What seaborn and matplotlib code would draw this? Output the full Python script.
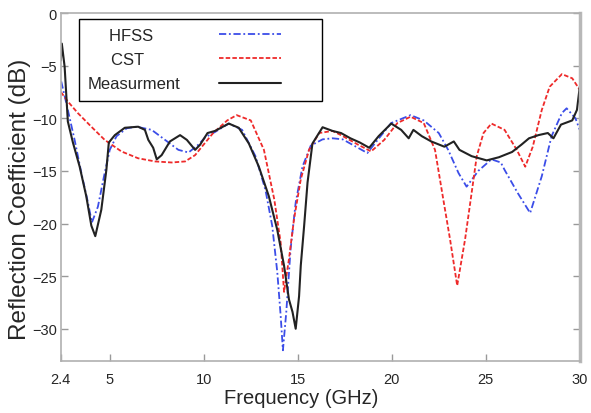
import matplotlib
matplotlib.use("Agg")
import matplotlib.pyplot as plt
from matplotlib.patches import Rectangle
import seaborn as sns

# HFSS simulation
hfss_freq = [2.42, 2.77, 3.13, 3.49, 3.84, 4.05, 4.37, 4.73, 5.0, 5.36, 5.9, 6.43, 7.23, 7.94,
             8.65, 9.19, 9.72, 10.08, 10.6, 11.33, 12.04, 12.75, 13.28, 13.64, 13.91, 14.09,
             14.21, 14.39, 14.62, 14.89, 15.25, 15.69, 16.32, 16.85, 17.39, 18.2, 18.7, 19.25,
             19.97, 21.0, 21.7, 22.5, 23.0, 23.55, 23.98, 24.6, 25.3, 25.8, 26.0, 26.7, 27.36,
             27.98, 28.5, 29.05, 29.3, 29.77, 30.0]
hfss_db = [-6.5, -9.2, -12.05, -15.2, -18.0, -19.9, -18.4, -15.2, -13.0, -11.7, -10.95, -10.8,
           -11.1, -12.05, -13.0, -13.25, -12.5, -11.8, -11.3, -10.5, -11.1, -13.6, -16.8, -20.2,
           -24.6, -28.75, -32.05, -28.4, -22.4, -18.0, -14.6, -12.6, -12.0, -11.9, -12.0, -12.8,
           -13.3, -12.05, -10.45, -9.7, -10.2, -11.4, -13.0, -15.2, -16.5, -15.0, -13.9, -14.2,
           -14.9, -17.1, -19.0, -15.5, -11.7, -9.5, -9.05, -10.0, -11.1]

# CST simulation
cst_freq = [2.4, 2.77, 3.3, 4.02, 4.73, 5.62, 6.51, 7.41, 8.3, 9.01, 9.54, 9.9, 10.5, 11.25,
            11.75, 12.5, 13.2, 13.75, 14.09, 14.27, 14.53, 14.8, 15.16, 15.6, 16.14, 16.85,
            17.3, 18.2, 18.9, 19.6, 20.3, 21.0, 21.7, 22.3, 22.74, 23.1, 23.48, 23.9, 24.2,
            24.52, 24.88, 25.3, 26.0, 26.65, 27.1, 27.5, 27.98, 28.4, 29.05, 29.6, 30.0]
cst_db = [-7.5, -8.4, -9.5, -10.8, -12.05, -13.15, -13.8, -14.1, -14.2, -14.1, -13.5, -12.7,
          -11.4, -10.2, -9.7, -10.2, -13.0, -17.7, -21.8, -26.5, -23.4, -19.6, -15.8, -13.0,
          -11.4, -11.2, -11.6, -12.5, -13.15, -12.05, -10.45, -9.85, -10.45, -13.0, -17.7,
          -21.5, -25.9, -21.5, -17.7, -13.6, -11.4, -10.5, -11.1, -13.0, -14.6, -12.7, -9.2,
          -7.0, -5.8, -6.2, -7.3]

# measured
meas_freq = [2.4, 2.45, 2.6, 2.77, 3.04, 3.4, 3.75, 4.02, 4.23, 4.55, 4.82, 4.95, 5.27, 5.8,
             6.51, 6.87, 7.05, 7.31, 7.5, 7.76, 8.2, 8.74, 9.1, 9.54, 9.81, 10.2, 10.6, 11.33,
             11.86, 12.4, 12.93, 13.46, 13.91, 14.27, 14.53, 14.72, 14.89, 15.07, 15.16, 15.34,
             15.52, 15.78, 16.32, 16.85, 17.3, 17.8, 18.3, 18.8, 19.3, 19.97, 20.5, 20.9, 21.15,
             21.6, 22.1, 22.8, 23.3, 23.6, 24.25, 25.05, 25.7, 26.4, 26.9, 27.3, 27.8, 28.3,
             28.6, 29.0, 29.6, 29.85, 30.0]
meas_db = [-4.5, -2.9, -5.1, -10.3, -12.3, -14.6, -17.4, -20.2, -21.2, -18.7, -14.9, -12.3,
           -11.6, -10.9, -10.8, -11.1, -12.05, -12.8, -13.9, -13.5, -12.2, -11.6, -12.05, -13.0,
           -12.5, -11.4, -11.2, -10.5, -10.9, -12.4, -14.6, -17.4, -20.6, -24.0, -27.2, -28.4,
           -30.0, -26.9, -24.0, -20.2, -16.1, -12.4, -10.85, -11.2, -11.4, -11.9, -12.3, -12.8,
           -11.7, -10.5, -11.1, -11.9, -11.1, -11.7, -12.2, -12.7, -12.2, -13.0, -13.6, -14.0,
           -13.7, -13.2, -12.5, -11.9, -11.6, -11.4, -11.9, -10.6, -10.2, -9.2, -7.0]

xticks = [2.4, 5, 10, 15, 20, 25, 30]
xtick_labels = ['2.4', '5', '10', '15', '20', '25', '30']
yticks = [0, -5, -10, -15, -20, -25, -30]

sns.set_style("white")
plt.rcParams['font.family'] = ['Liberation Sans', 'DejaVu Sans']
narrow = ['Liberation Sans Narrow', 'Liberation Sans', 'DejaVu Sans']

fig, ax = plt.subplots(figsize=(5.91, 4.14), dpi=100)
fig.subplots_adjust(left=0.103, right=0.981, bottom=0.126, top=0.966)

# trailing spaces keep the short labels roughly centred over "Measurment"
sns.lineplot(x=hfss_freq, y=hfss_db, ax=ax, color='#3b4de8', lw=1.3,
             linestyle=(0, (4, 1.5, 1, 1.5)), label='HFSS      ')
sns.lineplot(x=cst_freq, y=cst_db, ax=ax, color='#ee2a2a', lw=1.3,
             linestyle=(0, (2.5, 1.2)), label='CST        ')
sns.lineplot(x=meas_freq, y=meas_db, ax=ax, color='#222222', lw=1.5,
             label='Measurment')

ax.set_xlim(2.4, 30)
ax.set_ylim(-33.05, 0)
ax.set_xticks(xticks)
ax.set_xticklabels(xtick_labels)
ax.set_yticks(yticks)
ax.tick_params(direction='in', length=5, width=1, color='#999999',
               bottom=True, left=True, right=True, top=False, labelright=False)
ax.tick_params(axis='x', pad=8)
ax.tick_params(axis='y', pad=3)
for lab in ax.get_xticklabels() + ax.get_yticklabels():
    lab.set_family(narrow)
    lab.set_fontsize(10.5)

for side in ['left', 'bottom', 'top']:
    ax.spines[side].set_color('#b0b0b0')
    ax.spines[side].set_linewidth(1.2)
ax.spines['right'].set_color('#b8b8b8')
ax.spines['right'].set_linewidth(2.5)

ax.set_xlabel('Frequency (GHz)', fontsize=14.5, family=narrow)
ax.xaxis.set_label_coords(0.464, -0.078)
ax.set_ylabel('Reflection Coefficient (dB)', fontsize=17.5)
ax.yaxis.set_label_coords(-0.057, 0.466)

leg = ax.legend(loc='upper left', bbox_to_anchor=(0.052, 0.958), markerfirst=False,
                fontsize=12, handlelength=3.7, handletextpad=2.3,
                labelspacing=0.56, borderpad=0, borderaxespad=0, frameon=False)
ax.add_patch(Rectangle((0.0347, 0.747), 0.468, 0.236, transform=ax.transAxes,
                       fill=False, edgecolor='black', lw=1.0, zorder=5))

fig.savefig('out.png', dpi=100)
